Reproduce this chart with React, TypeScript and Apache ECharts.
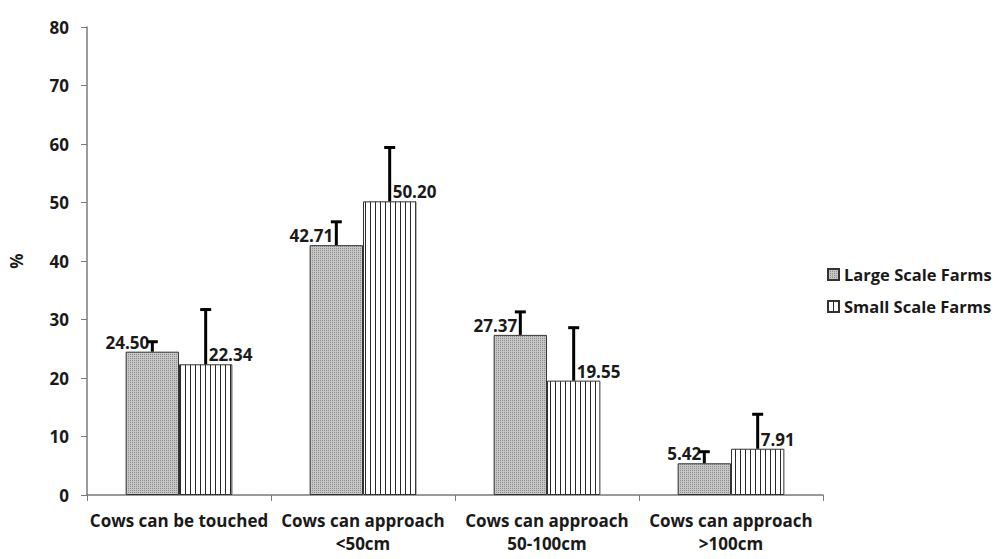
import React, { useEffect, useRef } from "react";
import * as echarts from "echarts";

const categories = [
  "Cows can be touched",
  "Cows can approach\n<50cm",
  "Cows can approach\n50-100cm",
  "Cows can approach\n>100cm",
];
const largeValues = [24.5, 42.71, 27.37, 5.42];
const smallValues = [22.34, 50.2, 19.55, 7.91];
const largeErrTop = [26.2, 46.7, 31.3, 7.4];
const smallErrTop = [31.7, 59.4, 28.6, 13.8];
const seriesNames = ["Large Scale Farms", "Small Scale Farms"];

function makeDots(): HTMLCanvasElement {
  const c = document.createElement("canvas");
  c.width = 4;
  c.height = 4;
  const ctx = c.getContext("2d")!;
  ctx.fillStyle = "#c6c6c6";
  ctx.fillRect(0, 0, 4, 4);
  ctx.fillStyle = "#8e8e8e";
  ctx.fillRect(0, 0, 1, 1);
  ctx.fillRect(2, 2, 1, 1);
  ctx.fillRect(2, 0, 1, 1);
  ctx.fillRect(0, 2, 1, 1);
  return c;
}

function makeStripes(): HTMLCanvasElement {
  const c = document.createElement("canvas");
  c.width = 5;
  c.height = 4;
  const ctx = c.getContext("2d")!;
  ctx.fillStyle = "#ffffff";
  ctx.fillRect(0, 0, 5, 4);
  ctx.fillStyle = "#2a2a2a";
  ctx.fillRect(0, 0, 1, 4);
  return c;
}

export default function App() {
  const ref = useRef<HTMLDivElement>(null);
  useEffect(() => {
    if (!ref.current) return;
    const chart = echarts.init(ref.current, undefined, { renderer: "svg" });
    const font = "'Open Sans', sans-serif";
    const dots = { image: makeDots(), repeat: "repeat" } as any;
    const stripes = { image: makeStripes(), repeat: "repeat" } as any;
    const barFrac = 0.29;
    const txt = { fontFamily: font, fontWeight: "bold" as const, color: "#1a1a1a" };

    const errSeries = (vals: number[], tops: number[], sign: number) => ({
      type: "custom",
      silent: true,
      z: 5,
      data: vals.map((v, i) => [i, v, tops[i]]),
      renderItem: (params: any, api: any) => {
        const band = api.size([1, 0])[0];
        const dx = sign * band * barFrac * 0.5;
        const base = api.coord([api.value(0), api.value(1)]);
        const top = api.coord([api.value(0), api.value(2)]);
        const x = base[0] + dx;
        const style = { stroke: "#000", lineWidth: 3 };
        return {
          type: "group",
          children: [
            { type: "line", shape: { x1: x, y1: base[1], x2: x, y2: top[1] }, style },
            { type: "line", shape: { x1: x - 5.5, y1: top[1], x2: x + 5.5, y2: top[1] }, style },
          ],
        };
      },
    });

    const valueLabel = (align: "left" | "right", dx: number) => ({
      show: true,
      position: ["50%", -1] as any,
      align,
      verticalAlign: "bottom" as const,
      offset: [dx, 0],
      formatter: (p: any) => p.value.toFixed(2),
      ...txt,
      fontSize: 17,
    });

    chart.setOption({
      animation: false,
      textStyle: { fontFamily: font },
      grid: { left: 87, right: 172, top: 27, bottom: 64, outerBoundsMode: "none", containLabel: false },
      legend: {
        orient: "vertical",
        left: 822,
        top: 261,
        itemWidth: 11,
        itemHeight: 11,
        itemGap: 15,
        icon: "rect",
        data: seriesNames,
        textStyle: { ...txt, fontSize: 16.5 },
      },
      xAxis: {
        type: "category",
        data: categories,
        axisLine: { lineStyle: { color: "#7a7a7a", width: 1.5 } },
        axisTick: { show: true, length: 6, lineStyle: { color: "#7a7a7a" } },
        axisLabel: { ...txt, fontSize: 17, margin: 14, lineHeight: 23, interval: 0 },
      },
      yAxis: {
        type: "value",
        min: 0,
        max: 80,
        interval: 10,
        name: "%",
        nameLocation: "middle",
        nameGap: 62,
        nameRotate: 90,
        nameTextStyle: { ...txt, fontSize: 17 },
        axisLine: { show: true, lineStyle: { color: "#7a7a7a", width: 1.5 } },
        axisTick: { show: true, length: 6, lineStyle: { color: "#7a7a7a" } },
        splitLine: { show: false },
        axisLabel: { ...txt, fontSize: 17, margin: 18 },
      },
      series: [
        {
          name: seriesNames[0],
          type: "bar",
          data: largeValues,
          barGap: "0%",
          barCategoryGap: "42%",
          itemStyle: { color: dots, borderColor: "#333", borderWidth: 1 },
          label: valueLabel("right", -3),
        },
        {
          name: seriesNames[1],
          type: "bar",
          data: smallValues,
          barGap: "0%",
          barCategoryGap: "42%",
          itemStyle: { color: stripes, borderColor: "#333", borderWidth: 1 },
          label: valueLabel("left", 3),
        },
        errSeries(largeValues, largeErrTop, -1),
        errSeries(smallValues, smallErrTop, 1),
      ],
    });
    return () => chart.dispose();
  }, []);
  return <div ref={ref} style={{ width: 995, height: 559, position: "absolute", left: 0, top: 0, background: "#fff" }} />;
}
